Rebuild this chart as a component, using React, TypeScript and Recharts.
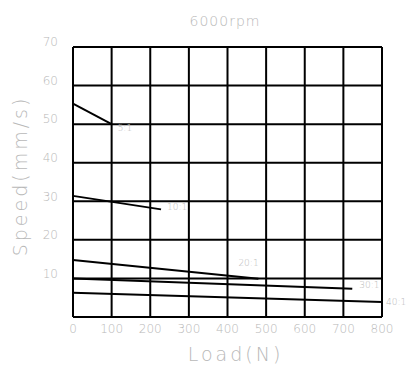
import { CartesianGrid, Label, Line, LineChart, XAxis, YAxis } from "recharts";

const X_TICKS = [0, 100, 200, 300, 400, 500, 600, 700, 800];
const Y_TICKS = [0, 10, 20, 30, 40, 50, 60, 70];

// one array per reduction ratio: [load N, speed mm/s]
const RATIO_5 = [
  { load: 0, speed: 55.3 },
  { load: 100, speed: 50 },
];
const RATIO_10 = [
  { load: 0, speed: 31.4 },
  { load: 228, speed: 27.9 },
];
const RATIO_20 = [
  { load: 0, speed: 14.8 },
  { load: 480, speed: 9.9 },
];
const RATIO_30 = [
  { load: 0, speed: 10 },
  { load: 723, speed: 7.3 },
];
const RATIO_40 = [
  { load: 0, speed: 6.3 },
  { load: 800, speed: 3.9 },
];

const SERIES = [
  { name: "5:1", data: RATIO_5, dx: 6, dy: 4 },
  { name: "10:1", data: RATIO_10, dx: 6, dy: -2 },
  { name: "20:1", data: RATIO_20, dx: -20, dy: -15 },
  { name: "30:1", data: RATIO_30, dx: 7, dy: -3 },
  { name: "40:1", data: RATIO_40, dx: 4, dy: 1 },
];

const TEXT = "#b8b8b8";
const FONT = "'DejaVu Sans', sans-serif";

function endLabel(name: string, count: number, dx: number, dy: number) {
  return (props: any) => {
    if (props.index !== count - 1) return null;
    return (
      <text
        x={props.x + dx}
        y={props.y + dy}
        fill={TEXT}
        fontSize={9}
        fontFamily={FONT}
        fontWeight={200}
        dominantBaseline="middle"
      >
        {name}
      </text>
    );
  };
}

export default function App() {
  return (
    <div style={{ position: "absolute", left: 0, top: 0, background: "#fff" }}>
      <LineChart
        width={406}
        height={365}
        margin={{ top: 47, right: 24, left: 0, bottom: 0 }}
      >
        <text
          x={225}
          y={22}
          textAnchor="middle"
          dominantBaseline="middle"
          fill={TEXT}
          fontSize={14}
          fontFamily={FONT}
          fontWeight={200}
          letterSpacing={1}
        >
          6000rpm
        </text>
        <CartesianGrid stroke="#000" strokeWidth={2} />
        <XAxis
          type="number"
          dataKey="load"
          domain={[0, 800]}
          ticks={X_TICKS}
          height={48}
          axisLine={false}
          tickLine={false}
          tick={{ fontSize: 12, fill: TEXT, fontFamily: FONT, fontWeight: 200 }}
          tickMargin={1}
          allowDuplicatedCategory={false}
        >
          <Label
            value="Load(N)"
            position="insideBottom"
            offset={4}
            dx={8}
            fill={TEXT}
            fontSize={19}
            fontFamily={FONT}
            fontWeight={200}
            letterSpacing={3}
          />
        </XAxis>
        <YAxis
          type="number"
          domain={[0, 70]}
          ticks={Y_TICKS}
          width={73}
          axisLine={false}
          tickLine={false}
          tickFormatter={(v: number) => (v === 0 ? "" : String(v))}
          tick={{ fontSize: 12, fill: TEXT, fontFamily: FONT, fontWeight: 200, dy: -5 }}
          tickMargin={9}
        >
          <Label
            value="Speed(mm/s)"
            angle={-90}
            position="insideLeft"
            offset={20}
            textAnchor="middle"
            dy={-6}
            fill={TEXT}
            fontSize={19}
            fontFamily={FONT}
            fontWeight={200}
            letterSpacing={3}
          />
        </YAxis>
        {SERIES.map((s) => (
          <Line
            key={s.name}
            data={s.data}
            dataKey="speed"
            type="linear"
            stroke="#000"
            strokeWidth={2}
            dot={false}
            isAnimationActive={false}
            label={endLabel(s.name, s.data.length, s.dx, s.dy)}
          />
        ))}
      </LineChart>
    </div>
  );
}
